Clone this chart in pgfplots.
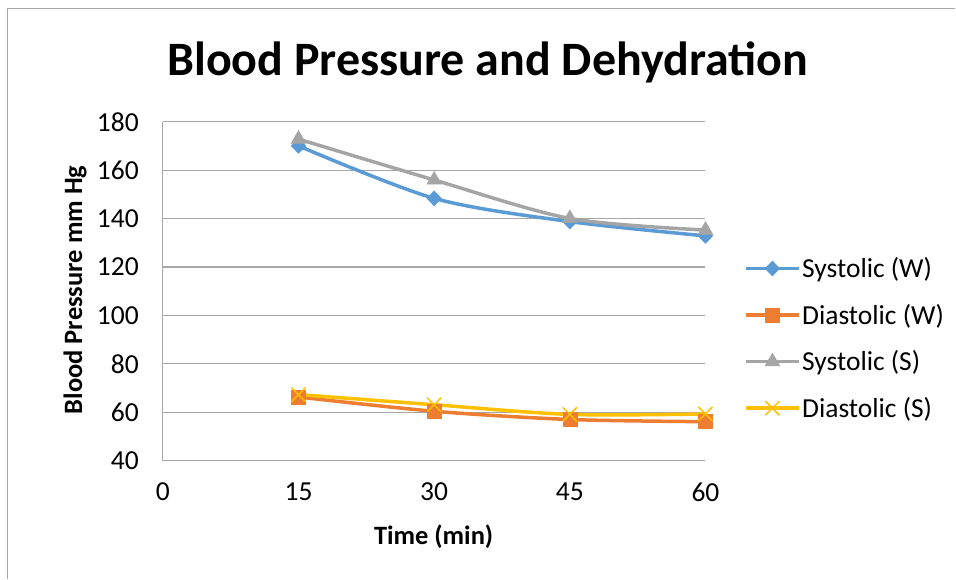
\documentclass[border=0pt]{standalone}
\usepackage{pgfplots}
\pgfplotsset{compat=1.18}
\usepackage{fontspec}
\setmainfont{Carlito}
\definecolor{cblue}{HTML}{5B9BD5}
\definecolor{corange}{HTML}{ED7D31}
\definecolor{cgray}{HTML}{A5A5A5}
\definecolor{cyellow}{HTML}{FFC000}
\definecolor{cgrid}{HTML}{A6A6A6}
\begin{document}
\begin{tikzpicture}
\path (0pt,0pt) rectangle (956pt,579pt);
\draw[cgrid, line width=1.5pt] (7.5pt,0pt) -- (7.5pt,570.5pt) -- (956pt,570.5pt);
\node[font=\fontsize{48}{54}\selectfont\bfseries] at (488pt,517pt) {Blood Pressure and Dehydration};
\begin{axis}[at={(163pt,118pt)}, anchor=south west, scale only axis,
  width=543pt, height=339pt,
  xmin=0, xmax=60, ymin=40, ymax=180,
  xtick={0,15,30,45,60}, ytick={40,60,...,180},
  ymajorgrids, grid style={cgrid, line width=1.2pt},
  axis x line*=bottom, axis y line*=left,
  axis line style={cgrid, line width=1.2pt},
  major tick length=0pt,
  /pgf/number format/assume math mode=true,
  ticklabel style={font=\fontsize{27.5}{32}\selectfont},
  yticklabel style={anchor=east, inner sep=0pt, xshift=-24pt},
  xticklabel style={anchor=north, inner sep=0pt, yshift=-22pt},
  xlabel={Time (min)}, ylabel={Blood Pressure mm Hg},
  label style={font=\fontsize{26.5}{31}\selectfont\bfseries},
  xlabel style={at={(axis description cs:0.499,-0.224)}, anchor=center},
  ylabel style={at={(axis description cs:-0.162,0.504)}, anchor=center},
  every axis plot/.append style={line width=3.5pt, smooth},
  legend style={at={(axis description cs:1.072,0.361)}, anchor=west, draw=none, fill=none,
    font=\fontsize{27.5}{32}\selectfont, row sep=21pt, inner sep=0pt,
    nodes={inner sep=2pt, anchor=west}},
  legend cell align=left,
  legend image code/.code={\draw[mark repeat=2,mark phase=2] plot coordinates {(0pt,0pt) (26pt,0pt) (52pt,0pt)};},
  clip=false
]
\addplot[cblue, mark=diamond*, mark size=7.5pt, mark options={solid, line width=0.5pt, xscale=1.3}] coordinates {(15,170.1) (30,148.4) (45,138.8) (60,132.9)};
\addlegendentry{Systolic (W)}
\addplot[corange, mark=square*, mark size=7pt, mark options={solid, line width=0.5pt}] coordinates {(15,66.3) (30,60.4) (45,57.0) (60,56.1)};
\addlegendentry{Diastolic (W)}
\addplot[cgray, mark=triangle*, mark size=8.5pt, mark options={solid, line width=0.5pt}] coordinates {(15,172.9) (30,156.0) (45,140.1) (60,135.3)};
\addlegendentry{Systolic (S)}
\addplot[cyellow, mark=x, mark size=10pt, mark options={solid, line width=1.5pt}] coordinates {(15,67.3) (30,63.1) (45,59.1) (60,59.3)};
\addlegendentry{Diastolic (S)}
\end{axis}
\end{tikzpicture}
\end{document}
